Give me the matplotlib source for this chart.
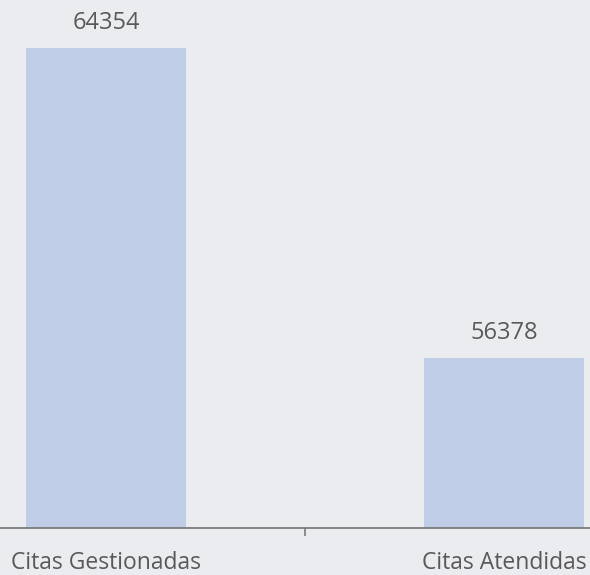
import matplotlib
matplotlib.use("Agg")
import matplotlib.pyplot as plt

categories = ["Citas Gestionadas", "Citas Atendidas"]
values = [64354, 56378]

BG = "#ebecef"
BAR = "#bfcde6"
TXT = "#595959"

plt.rcParams['font.family'] = ['Open Sans', 'DejaVu Sans']

fig = plt.figure(figsize=(5.9, 5.75), dpi=100, facecolor=BG)
ax = fig.add_axes([0, (575 - 528) / 575, 1, 528 / 575])
ax.set_facecolor(BG)

x = list(range(len(categories)))
ax.bar(x, values, width=0.4, color=BAR, zorder=2)

ymin = 52000
ymax = ymin + 528 * (values[0] - values[1]) / 310.0
ax.set_ylim(ymin, ymax)
ax.set_xlim(-106 / 398, (590 - 106) / 398)

for xi, v in zip(x, values):
    ax.annotate(str(v), (xi, v), xytext=(0, 9.5), textcoords="offset points",
                ha="center", va="bottom", fontsize=17, color=TXT)

for s in ["left", "right", "top"]:
    ax.spines[s].set_visible(False)
ax.spines["bottom"].set_color("#7a7a7a")
ax.spines["bottom"].set_linewidth(1.3)

ax.set_yticks([])
ax.set_xticks([0.5])
ax.set_xticklabels([""])
ax.tick_params(axis="x", length=6, width=1.2, color="#7a7a7a")
for xi, c in zip(x, categories):
    ax.text(xi, -41 / 528, c, transform=ax.get_xaxis_transform(), ha="center", va="baseline",
            fontsize=16.5, color=TXT)

fig.savefig("out.png", dpi=100, facecolor=BG)
